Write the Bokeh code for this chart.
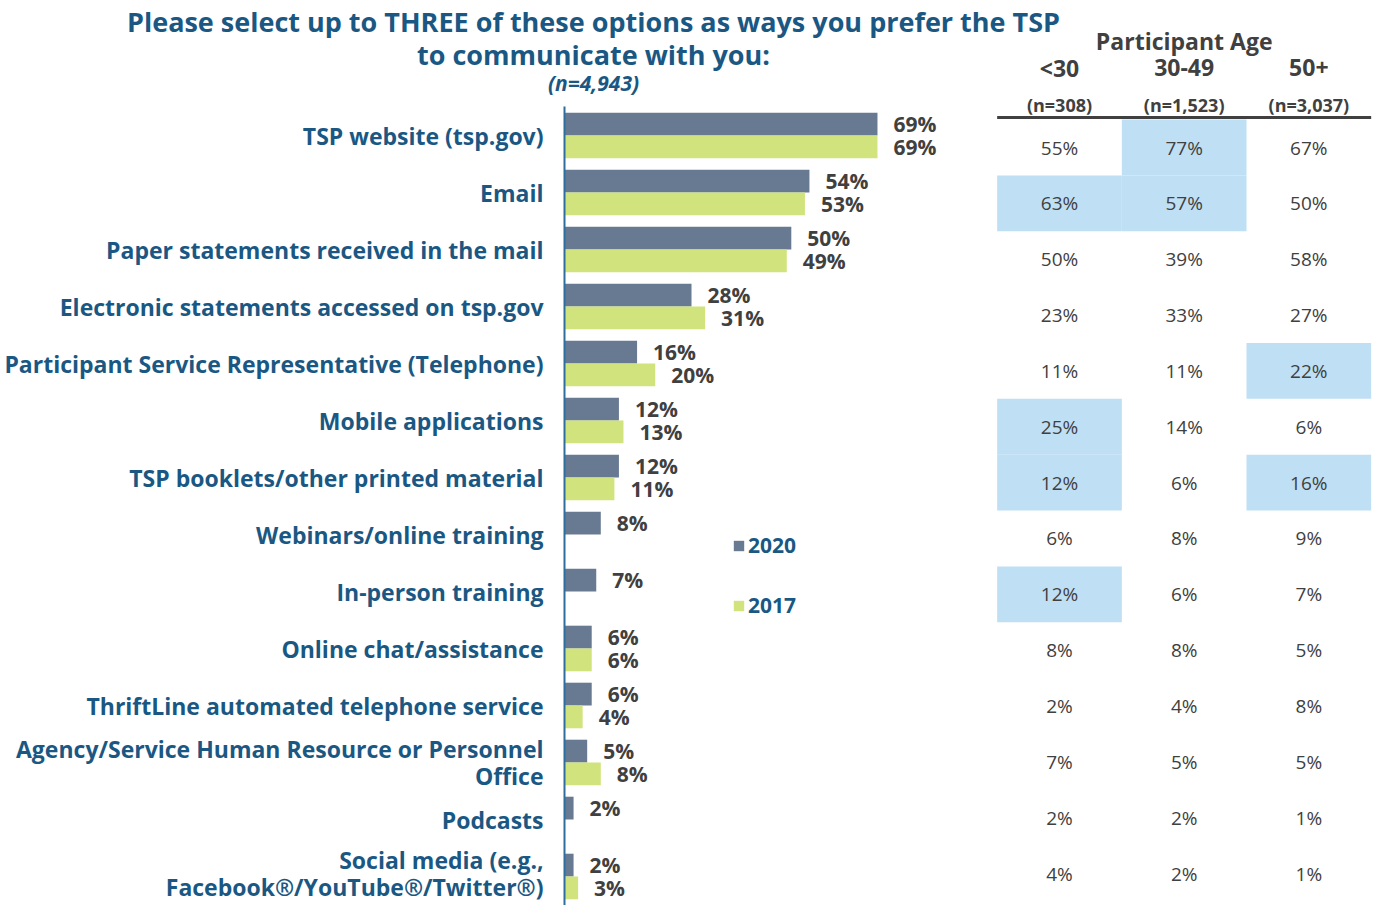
import numpy as np
from bokeh.plotting import figure
from bokeh.models import Range1d, ColumnDataSource, Legend, LegendItem
from bokeh.core.properties import value
from bokeh.embed import file_html
from bokeh.resources import INLINE

categories = [
    "TSP website (tsp.gov)",
    "Email",
    "Paper statements received in the mail",
    "Electronic statements accessed on tsp.gov",
    "Participant Service Representative (Telephone)",
    "Mobile applications",
    "TSP booklets/other printed material",
    "Webinars/online training",
    "In-person training",
    "Online chat/assistance",
    "ThriftLine automated telephone service",
    "Agency/Service Human Resource or Personnel\nOffice",
    "Podcasts",
    "Social media (e.g.,\nFacebook®/YouTube®/Twitter®)",
]
v2020 = [69, 54, 50, 28, 16, 12, 12, 8, 7, 6, 6, 5, 2, 2]
v2017 = [69, 53, 49, 31, 20, 13, 11, None, None, 6, 4, 8, None, 3]

age_groups = ["<30", "30-49", "50+"]
age_n = ["(n=308)", "(n=1,523)", "(n=3,037)"]
age_lt30 = [55, 63, 50, 23, 11, 25, 12, 6, 12, 8, 2, 7, 2, 4]
age_30_49 = [77, 57, 39, 33, 11, 14, 6, 8, 6, 8, 4, 5, 2, 2]
age_50p = [67, 50, 58, 27, 22, 6, 16, 9, 7, 5, 8, 5, 1, 1]
# highlighted cells (row, column)
highlights = [(0, 1), (1, 0), (1, 1), (4, 2), (5, 0), (6, 0), (6, 2), (8, 0)]

title1 = "Please select up to THREE of these options as ways you prefer the TSP"
title2 = "to communicate with you:"
title_n = "(n=4,943)"

BLUE = "#1A5883"
GRAY = "#404040"
C2020 = "#687A92"
C2017 = "#D0E37C"
HL = "#BFDFF4"
FONT = "Open Sans"

W, H = 1375, 905
# bar geometry (pixels in figure)
base_px, pct_px = 564.0, 4.536      # x of 0% and pixels per percent
row0_px, row_px = 135.0, 57.0       # y of first category and spacing
# table geometry
col0_px, col_px = 1059.0, 124.67
trow0_px, trow_px = 147.0, 55.85

def bx(px):
    return (px - base_px) / pct_px

def by(py):
    return (py - row0_px) / row_px

def ty(py):
    return (py - trow0_px) / trow_px

def tx(px):
    return (px - col0_px) / col_px

p = figure(width=W, height=H, output_backend="svg", toolbar_location=None,
           x_range=Range1d(bx(0), bx(W)), y_range=Range1d(by(H), by(0)),
           min_border=0)
p.extra_x_ranges = {"tbl": Range1d(tx(0), tx(W))}
p.extra_y_ranges = {"tbl": Range1d(ty(H), ty(0))}
p.axis.visible = False
p.grid.visible = False
p.outline_line_color = None
p.background_fill_color = "white"

idx = np.arange(len(categories))

# bars
s20 = ColumnDataSource(dict(y=idx - 0.2, v=v2020, lab=[f"{v}%" for v in v2020]))
i17 = [i for i, v in enumerate(v2017) if v is not None]
s17 = ColumnDataSource(dict(y=[i + 0.2 for i in i17], v=[v2017[i] for i in i17],
                            lab=[f"{v2017[i]}%" for i in i17]))
r20 = p.hbar(y="y", left=0, right="v", height=0.4, source=s20, fill_color=C2020, line_color=None)
r17 = p.hbar(y="y", left=0, right="v", height=0.4, source=s17, fill_color=C2017, line_color=None)

for src in (s20, s17):
    p.text(x="v", y="y", text="lab", source=src, x_offset=16, text_align="left",
           text_baseline="middle", text_font=value(FONT), text_font_style="bold",
           text_font_size="21px", text_color=GRAY)

# axis line
p.segment(x0=[0], x1=[0], y0=[by(106)], y1=[by(H)], line_color="#2E6E9E", line_width=2)

# category labels (last, two-line label nudged up so it stays inside the page)
lab_src = ColumnDataSource(dict(x=[0] * len(categories), y=list(idx), text=categories,
                                yoff=[0] * (len(categories) - 1) + [-3]))
p.text(x="x", y="y", text="text", source=lab_src, x_offset=-21, y_offset="yoff",
       text_align="right", text_baseline="middle", text_font=value(FONT),
       text_font_style="bold", text_font_size="23px", text_color=BLUE,
       text_line_height=0.86)

# title
p.text(x=[bx(593)] * 2, y=[by(21), by(54)], text=[title1, title2], text_align="center",
       text_baseline="middle", text_font=value(FONT), text_font_style="bold",
       text_font_size="27px", text_color=BLUE)
p.text(x=[bx(593)], y=[by(82)], text=[title_n], text_align="center",
       text_baseline="middle", text_font=value(FONT), text_font_style="bold italic",
       text_font_size="21px", text_color=BLUE)

# legend
legend = Legend(items=[LegendItem(label="2020", renderers=[r20]),
                       LegendItem(label="2017", renderers=[r17])],
                location=(732, 286), orientation="vertical",
                glyph_width=13, glyph_height=13, label_height=20, spacing=32,
                label_standoff=3, padding=0, margin=0, border_line_color=None,
                background_fill_alpha=0, label_text_font=FONT,
                label_text_font_style="bold", label_text_font_size="21px",
                label_text_color=BLUE)
p.add_layout(legend, "center")

# table
hx = [c for r, c in highlights]
hy = [r for r, c in highlights]
p.rect(x=hx, y=hy, width=1, height=1, fill_color=HL, line_color=None,
       x_range_name="tbl", y_range_name="tbl")

for j, col in enumerate([age_lt30, age_30_49, age_50p]):
    p.text(x=[j] * len(col), y=list(idx), text=[f"{v}%" for v in col],
           text_align="center", text_baseline="middle", text_font=value(FONT),
           text_font_size="19px", text_color=GRAY, x_range_name="tbl", y_range_name="tbl")

p.segment(x0=[-0.5], x1=[2.5], y0=[-0.5 - 2 / trow_px], y1=[-0.5 - 2 / trow_px],
          line_color=GRAY, line_width=3, x_range_name="tbl", y_range_name="tbl")

p.text(x=[1], y=[ty(40)], text=["Participant Age"], text_align="center",
       text_baseline="middle", text_font=value(FONT), text_font_style="bold",
       text_font_size="23px", text_color=GRAY, x_range_name="tbl", y_range_name="tbl")
p.text(x=[0, 1, 2], y=[ty(67)] * 3, text=age_groups, text_align="center",
       text_baseline="middle", text_font=value(FONT), text_font_style="bold",
       text_font_size="23px", text_color=GRAY, x_range_name="tbl", y_range_name="tbl")
p.text(x=[0, 1, 2], y=[ty(104)] * 3, text=age_n, text_align="center",
       text_baseline="middle", text_font=value(FONT), text_font_style="bold",
       text_font_size="18px", text_color=GRAY, x_range_name="tbl", y_range_name="tbl")

open("out.html", "w").write(file_html(p, INLINE))
